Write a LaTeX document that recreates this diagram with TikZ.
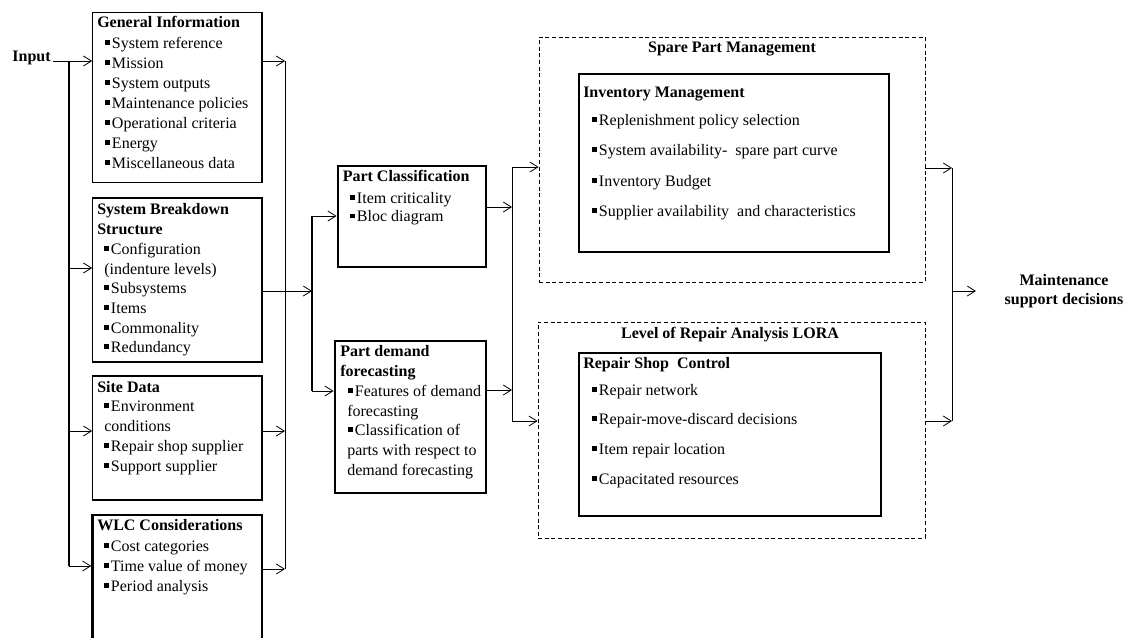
\documentclass[tikz,border=0pt]{standalone}
\usepackage{fontspec}
\setmainfont{Liberation Serif}
\usetikzlibrary{arrows.meta,fit}
% small filled square used as list bullet
\newcommand\sqb{\rule[0.2em]{0.3em}{0.3em}\hspace{0.12em}}
\begin{document}
\begin{tikzpicture}[x=0.75pt,y=-0.75pt,
  txt/.style={anchor=base west, inner sep=0pt, font=\fontsize{12pt}{15pt}\selectfont},
  hd/.style={txt, font=\fontsize{12pt}{15pt}\selectfont\bfseries},
  ctitle/.style={hd, anchor=base},
  plainbox/.style={draw, line width=0.8pt, inner sep=0pt},
  heavybox/.style={draw, line width=2.2pt, inner sep=0pt},
  groupbox/.style={draw, line width=0.6pt, dash pattern=on 3pt off 2pt, inner sep=0pt},
  link/.style={line width=0.6pt},
  trunk/.style={line width=1.5pt},
  arr/.style={link, -{Straight Barb[length=6pt,width=7.5pt]}}
]
\path[use as bounding box, clip] (0,0) rectangle (1132,637);

% ---------- input column ----------
\node[fit={(92.7,12.7) (262,182.7)}, plainbox] (gi) {};
\node[fit={(92.7,198) (262,362)}, plainbox] (sbs) {};
\node[fit={(92.7,376) (262,500)}, plainbox] (site) {};
\node[fit={(92.7,515) (262,660)}, heavybox] (wlc) {};

\node[hd] (gi-h) at (97,27) {General Information};
\node[txt] (gi-1) at (105,48) {\sqb System reference};
\node[txt] (gi-2) at (105,68) {\sqb Mission};
\node[txt] (gi-3) at (105,88) {\sqb System outputs};
\node[txt] (gi-4) at (105,108) {\sqb Maintenance policies};
\node[txt] (gi-5) at (105,128) {\sqb Operational criteria};
\node[txt] (gi-6) at (105,148) {\sqb Energy};
\node[txt] (gi-7) at (105,168) {\sqb Miscellaneous\ data};

\node[hd] (sbs-h1) at (97,214) {System Breakdown};
\node[hd] (sbs-h2) at (97,234) {Structure};
\node[txt] (sbs-1) at (104,254) {\sqb Configuration};
\node[txt] (sbs-1b) at (104,274) {(indenture levels)};
\node[txt] (sbs-2) at (104,293) {\sqb Subsystems};
\node[txt] (sbs-3) at (104,313) {\sqb Items};
\node[txt] (sbs-4) at (104,333) {\sqb Commonality};
\node[txt] (sbs-5) at (104,352) {\sqb Redundancy};

\node[hd] (site-h) at (97,392) {Site Data};
\node[txt] (site-1) at (104,411) {\sqb Environment};
\node[txt] (site-1b) at (104,431) {conditions};
\node[txt] (site-2) at (104,451) {\sqb Repair shop supplier};
\node[txt] (site-3) at (104,471) {\sqb Support supplier};

\node[hd] (wlc-h) at (97,530) {WLC Considerations};
\node[txt] (wlc-1) at (104,551) {\sqb Cost categories};
\node[txt] (wlc-2) at (104,571) {\sqb Time value of money};
\node[txt] (wlc-3) at (104,591) {\sqb Period analysis};

\node[hd, anchor=base east] (input) at (51,61) {Input};

% ---------- middle column ----------
\node[fit={(338,166) (486,267)}, heavybox] (pc) {};
\node[fit={(335,341) (486,493)}, heavybox] (pdf) {};

\node[hd] (pc-h) at (342.5,181) {Part Classification};
\node[txt] (pc-1) at (350,203) {\sqb Item criticality};
\node[txt] (pc-2) at (350,221.5) {\sqb Bloc diagram};

\node[hd] (pdf-h1) at (340,356) {Part demand};
\node[hd] (pdf-h2) at (340,376) {forecasting};
\node[txt] (pdf-1) at (348,396) {\sqb Features of demand};
\node[txt] (pdf-1b) at (347,416) {forecasting};
\node[txt] (pdf-2) at (348,435) {\sqb Classification of};
\node[txt] (pdf-2b) at (347,455) {parts with respect to};
\node[txt] (pdf-2c) at (347,475) {demand forecasting};

% ---------- right column ----------
\node[fit={(539,37) (925,282)}, groupbox] (spm) {};
\node[fit={(579,74) (889,252)}, heavybox] (inv) {};
\node[ctitle] (spm-t) at (732,52) {Spare Part Management};
\node[hd] (inv-h) at (583,97) {Inventory Management};
\node[txt] (inv-1) at (592,125) {\sqb Replenishment policy\ selection};
\node[txt] (inv-2) at (592,155) {\sqb System availability-\ \ spare part curve};
\node[txt] (inv-3) at (592,186) {\sqb Inventory Budget};
\node[txt] (inv-4) at (592,216) {\sqb Supplier availability\ \ and characteristics};

\node[fit={(538,322) (925,538)}, groupbox] (lora) {};
\node[fit={(579,353) (881,516)}, heavybox] (rsc) {};
\node[ctitle] (lora-t) at (730,338) {Level of Repair Analysis LORA};
\node[hd] (rsc-h) at (583,368) {Repair Shop\ \ Control};
\node[txt] (rsc-1) at (592,395) {\sqb Repair network};
\node[txt] (rsc-2) at (592,424) {\sqb Repair-move-discard decisions};
\node[txt] (rsc-3) at (592,454) {\sqb Item repair\ location};
\node[txt] (rsc-4) at (592,484) {\sqb Capacitated resources};

\node[ctitle] (msd-1) at (1064,285) {Maintenance};
\node[ctitle] (msd-2) at (1064,304) {support decisions};

% ---------- junction points of the buses ----------
\coordinate (in-s) at (53,61);
\coordinate (lb-top) at (69,61);
\coordinate (lb-sbs) at (69,268);
\coordinate (lb-site) at (69,431);
\coordinate (lb-bot) at (69,566);
\coordinate (rb-top) at (285,61);
\coordinate (rb-site) at (285,431);
\coordinate (rb-bot) at (285,569);
\coordinate (mb-top) at (312,216);
\coordinate (mb-in) at (312,291);
\coordinate (mb-bot) at (312,391);
\coordinate (qb-top) at (512,167);
\coordinate (qb-pc) at (512,207);
\coordinate (qb-pdf) at (512,390);
\coordinate (qb-bot) at (512,421);
\coordinate (cb-top) at (952,168);
\coordinate (cb-mid) at (952,291);
\coordinate (cb-bot) at (952,421);
\coordinate (out) at (976,291);

% input distribution
\draw[arr] (in-s) -- (gi.west |- in-s);
\draw[trunk] (lb-top) -- (lb-bot);
\draw[arr] (lb-sbs) -- (sbs.west |- lb-sbs);
\draw[arr] (lb-site) -- (site.west |- lb-site);
\draw[arr] (lb-bot) -- (wlc.west |- lb-bot);

% collection of the input boxes
\draw[arr] (gi.east |- rb-top) -- (rb-top);
\draw[link] (rb-top) -- (rb-bot);
\draw[arr] (site.east |- rb-site) -- (rb-site);
\draw[arr] (wlc.east |- rb-bot) -- (rb-bot);
\draw[arr] (sbs.east |- mb-in) -- (mb-in);

% middle bus
\draw[trunk] (mb-top) -- (mb-bot);
\draw[arr] (mb-top) -- (pc.west |- mb-top);
\draw[arr] (mb-bot) -- (pdf.west |- mb-bot);

% to the decision groups
\draw[arr] (pc.east |- qb-pc) -- (qb-pc);
\draw[arr] (pdf.east |- qb-pdf) -- (qb-pdf);
\draw[link] (qb-top) -- (qb-bot);
\draw[arr] (qb-top) -- (spm.west |- qb-top);
\draw[arr] (qb-bot) -- (lora.west |- qb-bot);

% output
\draw[arr] (spm.east |- cb-top) -- (cb-top);
\draw[arr] (lora.east |- cb-bot) -- (cb-bot);
\draw[link] (cb-top) -- (cb-bot);
\draw[arr] (cb-mid) -- (out);
\end{tikzpicture}
\end{document}
